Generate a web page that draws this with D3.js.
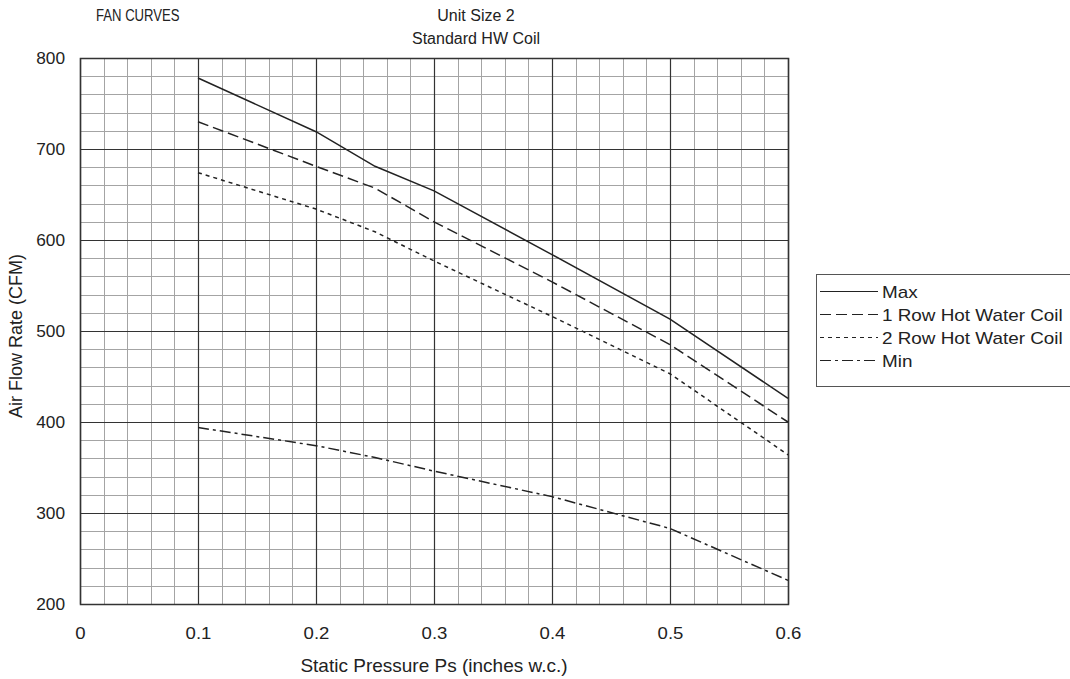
<!DOCTYPE html>
<html>
<head>
<meta charset="utf-8">
<script src="https://cdn.jsdelivr.net/npm/d3@7"></script>
<style>
  html, body { margin: 0; padding: 0; background: #fff; }
  svg text { font-family: "Liberation Sans", Arial, sans-serif; fill: #222; }
</style>
</head>
<body>
<svg id="chart" width="1070" height="679"></svg>
<script>
// Static pressure points (inches w.c.)
const pressure = [0.1, 0.2, 0.25, 0.3, 0.4, 0.5, 0.6];

// Air flow (CFM) for each curve
const maxFlow     = [778, 719, 681, 654, 584, 513, 426];
const row1Flow    = [730, 681, 657, 620, 554, 485, 400];
const row2Flow    = [674, 634, 609, 577, 516, 453, 364];
const minFlow     = [394, 374, 361, 346, 318, 283, 226];

const seriesNames = ["Max", "1 Row Hot Water Coil", "2 Row Hot Water Coil", "Min"];
const seriesData  = [maxFlow, row1Flow, row2Flow, minFlow];
const seriesDash  = [null, "11,5", "4,4", "11,4,3,4"];

const xTicks = [0, 0.1, 0.2, 0.3, 0.4, 0.5, 0.6];
const yTicks = [200, 300, 400, 500, 600, 700, 800];

const svg = d3.select("#chart");
const plot = { left: 80, right: 788, top: 58, bottom: 604 };

const x = d3.scaleLinear().domain([0, 0.6]).range([plot.left, plot.right]);
const y = d3.scaleLinear().domain([200, 800]).range([plot.bottom, plot.top]);

// Minor grid: every 0.02 in x, every 20 CFM in y
const minorX = d3.range(0, 0.6001, 0.02);
const minorY = d3.range(200, 800.1, 20);

const grid = svg.append("g");
grid.selectAll("line.mx").data(minorX).join("line")
  .attr("x1", d => Math.round(x(d)) + 0.5).attr("x2", d => Math.round(x(d)) + 0.5)
  .attr("y1", plot.top).attr("y2", plot.bottom)
  .attr("stroke", "#a4a4a4").attr("stroke-width", 1);
grid.selectAll("line.my").data(minorY).join("line")
  .attr("y1", d => Math.round(y(d)) + 0.5).attr("y2", d => Math.round(y(d)) + 0.5)
  .attr("x1", plot.left).attr("x2", plot.right)
  .attr("stroke", "#a4a4a4").attr("stroke-width", 1);

// Major grid
grid.selectAll("line.Mx").data(xTicks).join("line")
  .attr("x1", d => Math.round(x(d)) + 0.5).attr("x2", d => Math.round(x(d)) + 0.5)
  .attr("y1", plot.top).attr("y2", plot.bottom)
  .attr("stroke", "#333").attr("stroke-width", 1.2);
grid.selectAll("line.My").data(yTicks).join("line")
  .attr("y1", d => Math.round(y(d)) + 0.5).attr("y2", d => Math.round(y(d)) + 0.5)
  .attr("x1", plot.left).attr("x2", plot.right)
  .attr("stroke", "#333").attr("stroke-width", 1.2);

// Frame
svg.append("rect")
  .attr("x", plot.left + 0.5).attr("y", plot.top + 0.5)
  .attr("width", plot.right - plot.left).attr("height", plot.bottom - plot.top)
  .attr("fill", "none").attr("stroke", "#333").attr("stroke-width", 1.5);

// Axes (labels only, slightly wide lettering)
const xAxis = d3.axisBottom(x).tickValues(xTicks).tickSize(0).tickPadding(24)
  .tickFormat(d => d === 0 ? "0" : d3.format(".1f")(d));
const gx = svg.append("g").attr("transform", `translate(0,${plot.bottom})`).call(xAxis);
gx.select(".domain").remove();
gx.selectAll("text").style("font-size", "16px").attr("fill", "#222")
  .attr("transform", "scale(1.16,1)");

const ySx = 1.08;
const yAxis = d3.axisLeft(y).tickValues(yTicks).tickSize(0).tickPadding(15);
const gy = svg.append("g").attr("transform", `translate(${plot.left},0)`).call(yAxis);
gy.select(".domain").remove();
gy.selectAll("text").style("font-size", "16px").attr("fill", "#222")
  .attr("x", -15 / ySx).attr("transform", `scale(${ySx},1)`);

// Curves
const line = d3.line().x((d, i) => x(pressure[i])).y(d => y(d));
seriesData.forEach((vals, k) => {
  svg.append("path")
    .attr("d", line(vals))
    .attr("fill", "none")
    .attr("stroke", "#222")
    .attr("stroke-width", 1.5)
    .attr("stroke-dasharray", seriesDash[k]);
});

// Titles
svg.append("text").attr("transform", "translate(96,21) scale(0.82,1)")
  .style("font-size", "16px").text("FAN CURVES");
svg.append("text").attr("x", 476).attr("y", 21).attr("text-anchor", "middle")
  .style("font-size", "16px").text("Unit Size 2");
svg.append("text").attr("x", 476).attr("y", 44).attr("text-anchor", "middle")
  .style("font-size", "16px").text("Standard HW Coil");

// Axis titles
svg.append("text").attr("x", 434).attr("y", 672).attr("text-anchor", "middle")
  .style("font-size", "19px").text("Static Pressure Ps (inches w.c.)");
svg.append("text").attr("transform", "translate(22,336) rotate(-90)")
  .attr("text-anchor", "middle").style("font-size", "18px").text("Air Flow Rate (CFM)");

// Legend
const lg = svg.append("g");
lg.append("rect").attr("x", 816.5).attr("y", 274.5).attr("width", 270).attr("height", 112)
  .attr("fill", "#fff").attr("stroke", "#555").attr("stroke-width", 1);
seriesNames.forEach((name, k) => {
  const ly = 291.5 + k * 23;
  lg.append("line").attr("x1", 820).attr("x2", 878).attr("y1", ly).attr("y2", ly)
    .attr("stroke", "#222").attr("stroke-width", 1.2)
    .attr("stroke-dasharray", seriesDash[k]);
  lg.append("text").attr("transform", `translate(882,${ly + 6}) scale(1.18,1)`)
    .style("font-size", "16px").text(name);
});
</script>
</body>
</html>
